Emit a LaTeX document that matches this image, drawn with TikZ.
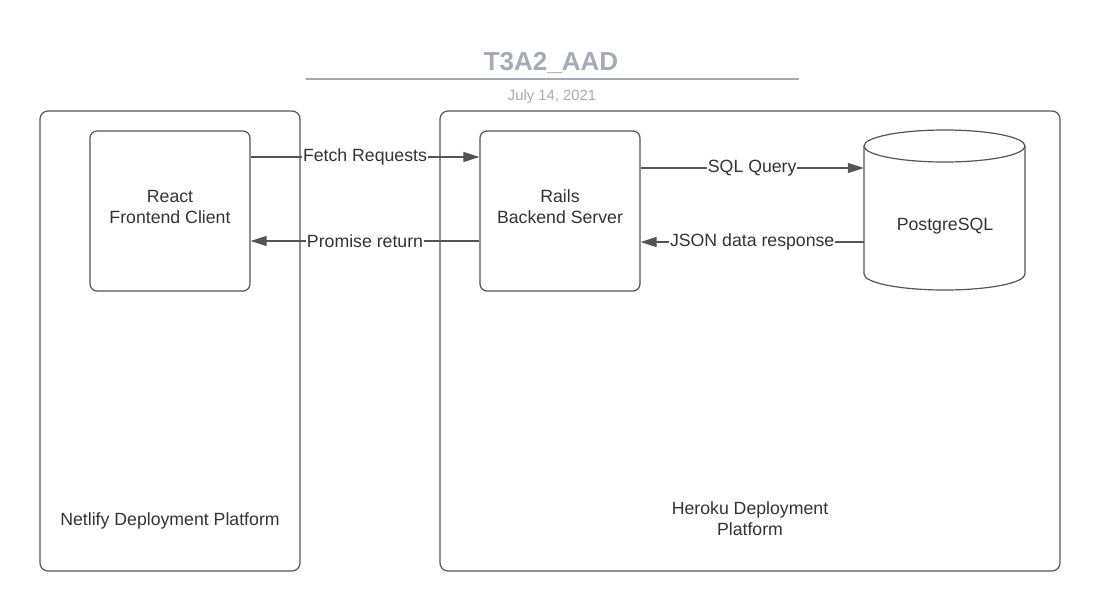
\documentclass[tikz,border=0pt]{standalone}
\usepackage{fontspec}
\setmainfont{Liberation Sans}
\usetikzlibrary{arrows.meta}
\definecolor{ttl}{HTML}{A5AAB3}
\definecolor{ln}{HTML}{555555}
\definecolor{txt}{HTML}{333333}
\tikzset{
  container/.style={draw=ln, line width=1.2pt, rounded corners=8pt, minimum width=260pt, inner sep=0pt},
  compbox/.style={draw=ln, line width=1.2pt, rounded corners=7pt, minimum width=160pt, minimum height=160pt, inner sep=0pt},
  lbl/.style={text=txt, font=\fontsize{17.7}{21}\selectfont, align=center, inner sep=0pt},
  conn/.style={draw=ln, line width=1.2pt, -{Triangle[length=16pt,width=10pt]}},
  elbl/.style={fill=white, text=txt, font=\fontsize{17.7}{21}\selectfont, inner sep=1pt},
}
\begin{document}
\begin{tikzpicture}[x=1pt,y=-1pt]
\useasboundingbox (0,0) rectangle (1100,611);
% title
\node[text=ttl, font=\bfseries\fontsize{26}{30}\selectfont] (title) at (551,63) {T3A2\_AAD};
\coordinate (tl) at (306,79);
\coordinate (tr) at (799,79);
\draw[ttl, line width=2pt] (tl) -- (tr);
\node[text=ttl, font=\fontsize{14.8}{18}\selectfont] (date) at (552,97) {July 14, 2021};
% containers
\node[container, minimum width=260pt, minimum height=460pt] (netlify) at (170,341) {};
\node[container, minimum width=620pt, minimum height=460pt] (heroku) at (750,341) {};
\node[lbl] (netlifylbl) at (170,521) {Netlify Deployment Platform};
\node[lbl] (herokulbl) at (750,519) {Heroku Deployment\\Platform};
% boxes
\node[compbox] (react) at (170,211) {};
\node[lbl] (reacttxt) at (170,207) {React\\Frontend Client};
\node[compbox] (rails) at (560,211) {};
\node[lbl] (railstxt) at (560,207) {Rails\\Backend Server};
% database cylinder
\draw[ln, line width=1.2pt, fill=white] (864,146) -- (864,274) arc[start angle=180, end angle=0, x radius=80.5, y radius=16] -- (1025,146);
\draw[ln, line width=1.2pt] (944.5,146) ellipse[x radius=80.5, y radius=16];
\node[minimum width=161pt, minimum height=160pt, inner sep=0pt] (db) at (944.5,211) {};
\node[lbl] (dblbl) at (945,226) {PostgreSQL};
% connectors
\draw[conn] ([yshift=54pt]react.east) -- node[elbl] {Fetch Requests} ([yshift=54pt]rails.west);
\draw[conn] ([yshift=-30pt]rails.west) -- node[elbl] {Promise return} ([yshift=-30pt]react.east);
\draw[conn] ([yshift=43pt]rails.east) -- node[elbl] {SQL Query} ([yshift=43pt]db.west);
\draw[conn] ([yshift=-31pt]db.west) -- node[elbl] {JSON data response} ([yshift=-31pt]rails.east);
\end{tikzpicture}
\end{document}
